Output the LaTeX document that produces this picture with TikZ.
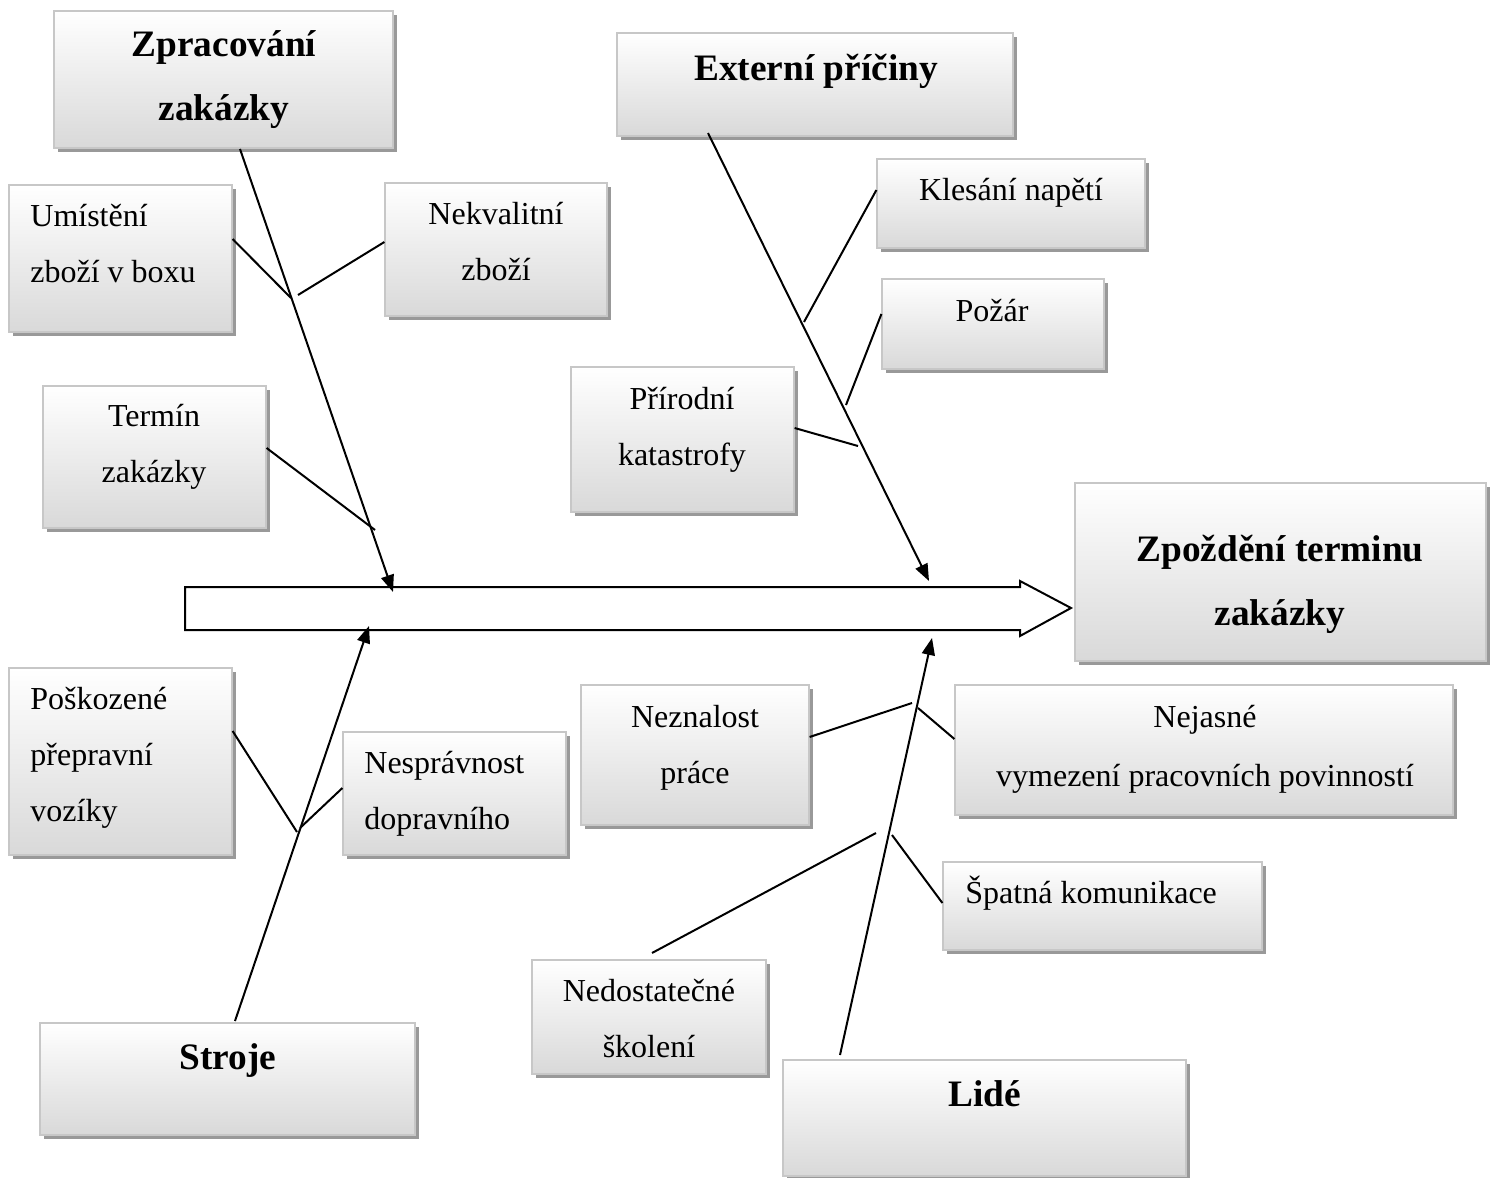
\documentclass[tikz,border=0pt]{standalone}
\usepackage{fontspec}
\setmainfont{Liberation Serif}
\usetikzlibrary{arrows.meta,shadows,fit}
\begin{document}
\begin{tikzpicture}[x=0.5pt,y=-0.5pt,
  cbox/.style={draw=black!22, line width=0.6pt, top color=white, bottom color=black!15,
    inner sep=0pt,
    drop shadow={shadow xshift=2pt, shadow yshift=-2pt, fill=black!40, opacity=1}},
  txt/.style={font=\fontsize{16}{28}\selectfont, inner sep=0pt},
  head/.style={font=\fontsize{18.67}{32}\selectfont\bfseries, align=center, inner sep=0pt},
  bone/.style={line width=1pt},
  rib/.style={line width=1pt, -{Triangle[length=8.5pt,width=6.5pt]}}]
\useasboundingbox (0,0) rectangle (1495,1178);

% ---- boxes ----
\node[cbox, fit={(54,11) (393,148)}]     (zp)  {};
\node[cbox, fit={(617,33) (1013,136)}]   (ext) {};
\node[cbox, fit={(9,185) (232,332)}]     (umi) {};
\node[cbox, fit={(385,183) (607,316)}]   (nek) {};
\node[cbox, fit={(43,386) (266,528)}]    (ter) {};
\node[cbox, fit={(877,159) (1145,248)}]  (kle) {};
\node[cbox, fit={(882,279) (1104,369)}]  (poz) {};
\node[cbox, fit={(571,367) (794,512)}]   (pri) {};
\node[cbox, fit={(1075,483) (1486,661)}] (eff) {};
\node[cbox, fit={(9,668) (232,855)}]     (pos) {};
\node[cbox, fit={(343,732) (566,855)}]   (nes) {};
\node[cbox, fit={(581,685) (809,825)}]   (nez) {};
\node[cbox, fit={(955,685) (1453,815)}]  (nej) {};
\node[cbox, fit={(943,862) (1262,950)}]  (spa) {};
\node[cbox, fit={(532,960) (766,1074)}]  (ned) {};
\node[cbox, fit={(40,1023) (415,1135)}]  (str) {};
\node[cbox, fit={(783,1060) (1186,1176)}] (lid) {};

% ---- texts (base anchor = baseline of the last line) ----
\node[head, anchor=base] (tzp)  at (224,120)  {Zpracování\\zakázky};
\node[head, anchor=base] (text) at (816,80)   {Externí příčiny};
\node[head, anchor=base] (teff) at (1280,625) {Zpoždění terminu\\zakázky};
\node[head, anchor=base] (tstr) at (228,1069) {Stroje};
\node[head, anchor=base] (tlid) at (985,1106) {Lidé};

\node[txt, align=left, anchor=base west] (tumi) at (30,282)  {Umístění\\zboží v boxu};
\node[txt, align=center, anchor=base]    (tnek) at (496,280) {Nekvalitní\\zboží};
\node[txt, align=center, anchor=base]    (tter) at (154,482) {Termín\\zakázky};
\node[txt, align=center, anchor=base]    (tkle) at (1011,200) {Klesání napětí};
\node[txt, align=center, anchor=base]    (tpoz) at (992,321) {Požár};
\node[txt, align=center, anchor=base]    (tpri) at (682,465) {Přírodní\\katastrofy};
\node[txt, align=left, anchor=base west] (tpos) at (30,821)  {Poškozené\\přepravní\\vozíky};
\node[txt, align=left, anchor=base west] (tnes) at (364,829) {Nesprávnost\\dopravního};
\node[txt, align=center, anchor=base]    (tnez) at (695,783) {Neznalost\\práce};
\node[txt, align=center, anchor=base]    (tnej) at (1205,786) {Nejasné\\[1.5pt]vymezení pracovních povinností};
\node[txt, align=left, anchor=base west] (tspa) at (965,903) {Špatná komunikace};
\node[txt, align=center, anchor=base]    (tned) at (649,1057) {Nedostatečné\\školení};

% ---- spine (block arrow) ----
\draw[line width=1pt, line join=miter] (185,587) -- (1020,587) -- (1020,581) -- (1071,608)
  -- (1020,636) -- (1020,630) -- (185,630) -- cycle;

% ---- points on the spine and on the bones ----
\coordinate (zpS) at (240,149);  \coordinate (zpT) at (393,592);
\coordinate (exS) at (708,133);  \coordinate (exT) at (929,581);
\coordinate (stS) at (235,1021); \coordinate (stT) at (369,626);
\coordinate (liS) at (840,1055); \coordinate (liT) at (932,638);

\coordinate (jUmi) at (291,298); \coordinate (jNek) at (298,295);
\coordinate (jTer) at (375,530);
\coordinate (jKle) at (804,322); \coordinate (jPoz) at (846,405);
\coordinate (jPri) at (858,446);
\coordinate (jPos) at (297,832); \coordinate (jNes) at (300,828);
\coordinate (jNez) at (912,703); \coordinate (jNej) at (918,708);
\coordinate (jNed) at (876,833); \coordinate (jSpa) at (892,835);

% ---- main bones ----
\draw[rib] (zpS) -- (zpT);
\draw[rib] (exS) -- (exT);
\draw[rib] (stS) -- (stT);
\draw[rib] (liS) -- (liT);

% ---- branches ----
\draw[bone] (umi.east |- 0,239) -- (jUmi);
\draw[bone] (nek.west |- 0,242) -- (jNek);
\draw[bone] (ter.east |- 0,448) -- (jTer);
\draw[bone] (kle.west |- 0,190) -- (jKle);
\draw[bone] (poz.west |- 0,314) -- (jPoz);
\draw[bone] (pri.east |- 0,428) -- (jPri);
\draw[bone] (pos.east |- 0,731) -- (jPos);
\draw[bone] (nes.west |- 0,788) -- (jNes);
\draw[bone] (nez.east |- 0,737) -- (jNez);
\draw[bone] (nej.west |- 0,739) -- (jNej);
\draw[bone] (652,953) -- (jNed);
\draw[bone] (spa.west |- 0,903) -- (jSpa);
\end{tikzpicture}
\end{document}
